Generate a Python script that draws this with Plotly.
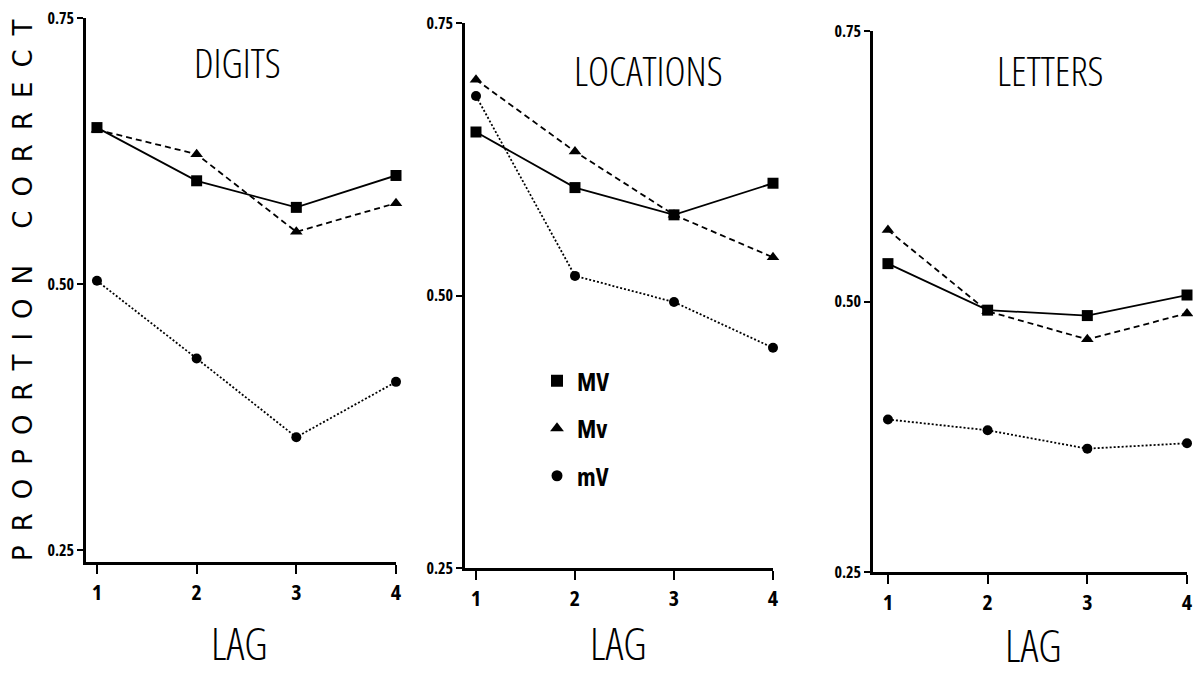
import plotly.graph_objects as go

LAG = [1, 2, 3, 4]
lag_ticktext = ["1", "2", "3", "4"]
PANELS = ["DIGITS", "LOCATIONS", "LETTERS"]
SERIES = ["MV", "Mv", "mV"]

digits_MV = [0.647, 0.597, 0.572, 0.602]
digits_Mv = [0.645, 0.622, 0.549, 0.576]
digits_mV = [0.503, 0.430, 0.356, 0.408]

locations_MV = [0.650, 0.599, 0.574, 0.603]
locations_Mv = [0.698, 0.632, 0.574, 0.535]
locations_mV = [0.683, 0.518, 0.494, 0.452]

letters_MV = [0.535, 0.492, 0.487, 0.506]
letters_Mv = [0.566, 0.491, 0.465, 0.489]
letters_mV = [0.391, 0.381, 0.364, 0.369]

y_tickvals = [0.25, 0.50, 0.75]
y_ticktext = ["0.25", "0.50", "0.75"]

data = [
    [digits_MV, digits_Mv, digits_mV],
    [locations_MV, locations_Mv, locations_mV],
    [letters_MV, letters_Mv, letters_mV],
]

W, H = 1193, 675


def px(x):
    return x / W


def py(y):
    return 1 - y / H


def cond(t, stretch="condensed"):
    return f'<span style="font-stretch:{stretch}">{t}</span>'


FONT = "Open Sans, Roboto, sans-serif"

# panel geometry in pixels (left, right, top, bottom) and axis ranges
geom = [
    dict(box=(86, 396, 18, 562), xr=[0.89, 4.0], yr=[0.2387, 0.75]),
    dict(box=(465, 773, 23, 568), xr=[0.889, 4.0], yr=[0.25, 0.75]),
    dict(box=(873, 1187, 31, 572), xr=[0.85, 4.0], yr=[0.25, 0.75]),
]

styles = {
    "MV": dict(dash="solid", symbol="square", size=11),
    "Mv": dict(dash="6px,4px", symbol="triangle-up", size=11),
    "mV": dict(dash="2px,2px", symbol="circle", size=10),
}

fig = go.Figure()
layout_axes = {}
for i, (name, g) in enumerate(zip(PANELS, geom)):
    n = "" if i == 0 else str(i + 1)
    l, r, t, b = g["box"]
    for s, vals in zip(SERIES, data[i]):
        st = styles[s]
        fig.add_trace(go.Scatter(
            x=LAG, y=vals, mode="lines+markers", name=s,
            xaxis="x" + n, yaxis="y" + n, showlegend=False,
            cliponaxis=False,
            line=dict(color="black", width=1.8, dash=st["dash"]),
            marker=dict(symbol=st["symbol"], size=st["size"], color="black"),
        ))
    layout_axes["xaxis" + n] = dict(
        domain=[px(l), px(r)], range=g["xr"], anchor="y" + n,
        tickvals=LAG, ticktext=[cond(t) for t in lag_ticktext],
        ticks="outside", ticklen=9, tickwidth=1.5, tickcolor="black",
        showline=True, linecolor="black", linewidth=2.5,
        showgrid=False, zeroline=False, ticklabelstandoff=0, automargin=False,
        ticklabeloverflow="allow",
        tickfont=dict(family=FONT, size=22, color="black", weight=700),
    )
    layout_axes["yaxis" + n] = dict(
        domain=[py(b), py(t)], range=g["yr"], anchor="x" + n,
        tickvals=y_tickvals, ticktext=[cond(t) for t in y_ticktext],
        ticks="outside", ticklen=6, tickwidth=1.5, tickcolor="black",
        showline=True, linecolor="black", linewidth=2.5,
        showgrid=False, zeroline=False, ticklabelstandoff=0, automargin=False,
        ticklabeloverflow="allow",
        tickfont=dict(family=FONT, size=16, color="black", weight=700),
    )

# legend entries (marker only)
for s in SERIES:
    st = styles[s]
    fig.add_trace(go.Scatter(
        x=[None], y=[None], mode="markers", name=cond(s), legendgroup=s,
        xaxis="x2", yaxis="y2",
        marker=dict(symbol=st["symbol"], size=st["size"] + 1, color="black"),
    ))

titles_pos = [(237, 62), (648, 70), (1050, 70)]
lag_pos = [(240, 643), (618, 643), (1033, 645)]
annotations = []
for name, (x, y) in zip(PANELS, titles_pos):
    annotations.append(dict(
        text=cond(name), x=px(x), y=py(y), xref="paper", yref="paper",
        xanchor="center", yanchor="middle", showarrow=False,
        font=dict(family=FONT, size=40, color="black", weight=300),
    ))
for (x, y) in lag_pos:
    annotations.append(dict(
        text=cond("LAG"), x=px(x), y=py(y), xref="paper", yref="paper",
        xanchor="center", yanchor="middle", showarrow=False,
        font=dict(family=FONT, size=44, color="black", weight=300),
    ))
annotations.append(dict(
    text='<span style="letter-spacing:14px">PROPORTION CORRECT</span>',
    x=px(23), y=py(284), xref="paper", yref="paper",
    xanchor="center", yanchor="middle", showarrow=False, textangle=-90,
    font=dict(family="DejaVu Sans, sans-serif", size=26, color="black", weight=400),
))

fig.update_layout(
    width=W, height=H,
    margin=dict(l=0, r=0, t=0, b=0, pad=0, autoexpand=False),
    paper_bgcolor="white", plot_bgcolor="white",
    showlegend=True,
    legend=dict(
        x=px(537), y=py(358), xanchor="left", yanchor="top",
        bgcolor="rgba(0,0,0,0)", tracegroupgap=12,
        font=dict(family=FONT, size=25, color="black", weight=700),
    ),
    annotations=annotations,
    **layout_axes,
)

fig.write_html("out.html", config={"displayModeBar": False},
               post_script="document.body.style.margin='0';")
